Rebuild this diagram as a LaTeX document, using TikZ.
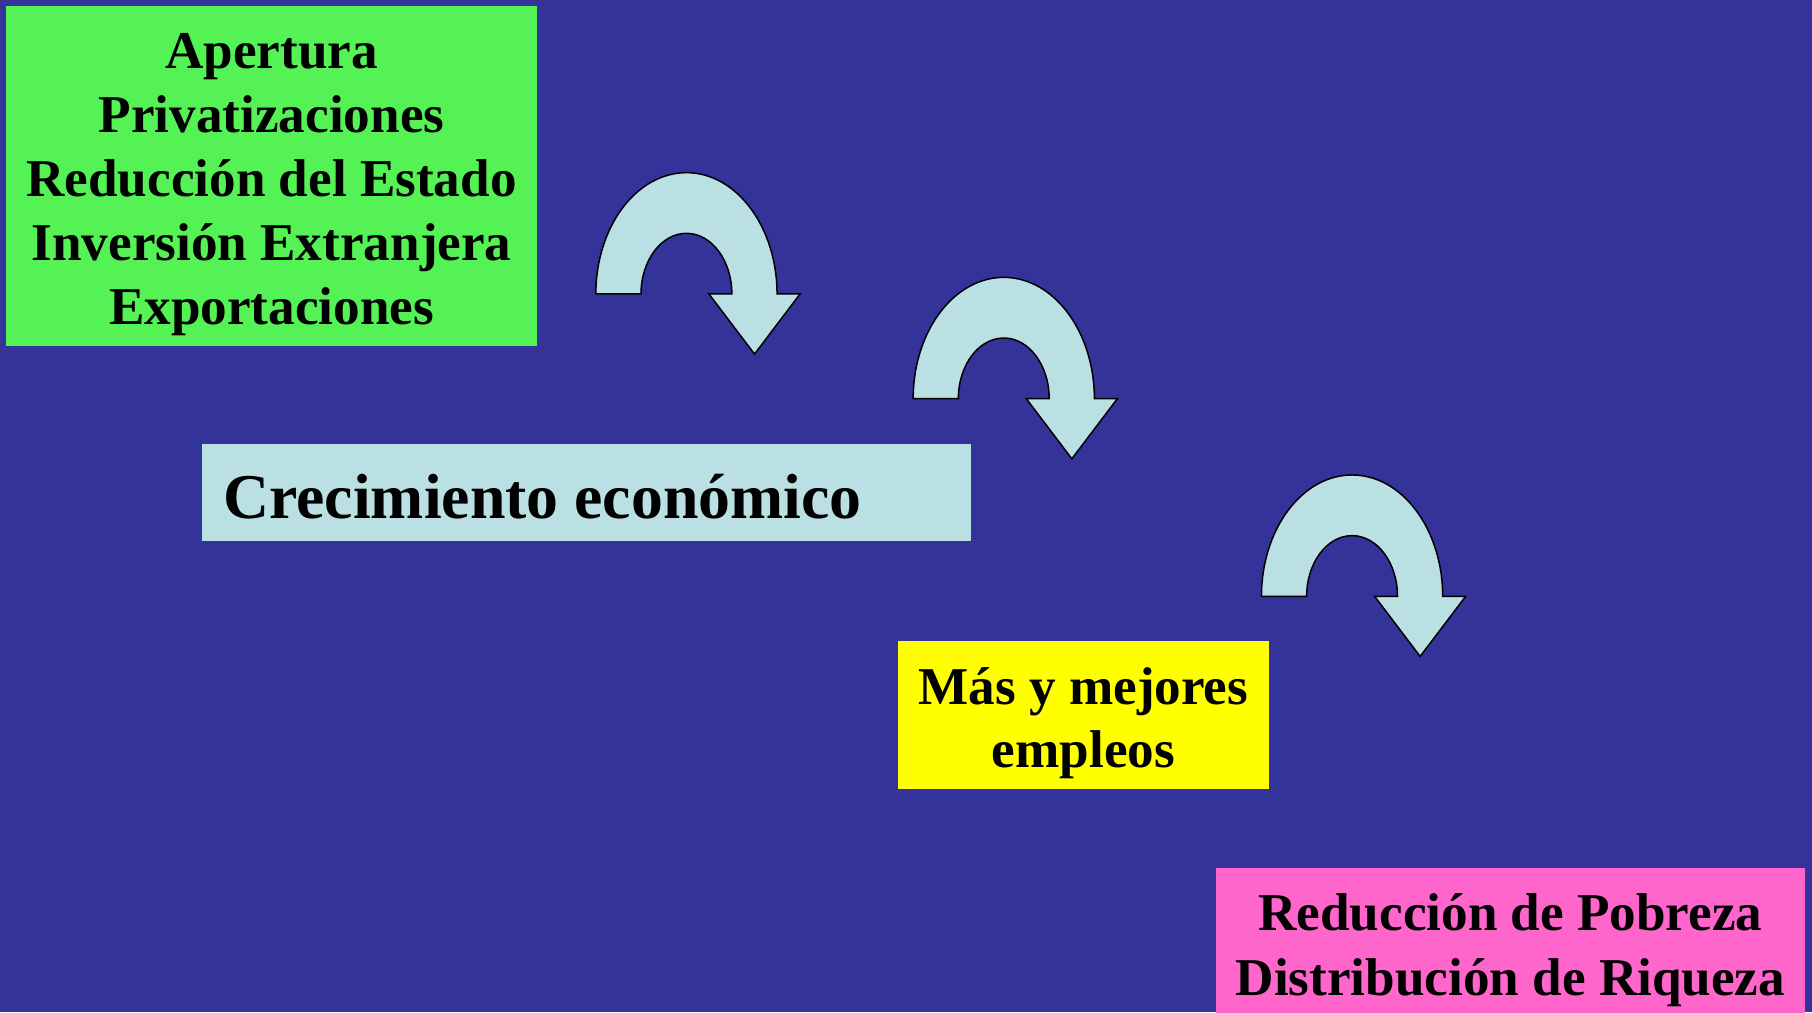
\documentclass[tikz,border=0pt]{standalone}
\usepackage{fontspec}
\setmainfont{Liberation Serif}
\definecolor{bgblue}{RGB}{51,51,153}
\definecolor{boxgreen}{RGB}{84,242,84}
\definecolor{boxcyan}{RGB}{186,224,227}
\definecolor{boxyellow}{RGB}{255,255,0}
\definecolor{boxpink}{RGB}{255,102,204}
\tikzset{
  panel/.style={rectangle, draw=none, inner sep=0pt, outer sep=0pt},
  line/.style={inner sep=0pt, outer sep=0pt, anchor=base, font=\fontsize{46bp}{55bp}\selectfont\bfseries},
  bigline/.style={inner sep=0pt, outer sep=0pt, anchor=base west, font=\fontsize{55.2bp}{66bp}\selectfont\bfseries},
  bendarrow/.style={fill=boxcyan, draw=black, line width=1.3bp, line join=miter},
  uarrow/.pic={
    \path[bendarrow] (-78.4,0) arc[start angle=180, end angle=360, x radius=78.4, y radius=105]
      -- (98.3,0) -- (58.9,52) -- (19.5,0) -- (39.3,0)
      arc[start angle=360, end angle=180, x radius=39.3, y radius=52.5] -- cycle;
  }
}
\begin{document}
\begin{tikzpicture}[x=1bp, y=-1bp]
\fill[bgblue] (0,0) rectangle (1568,876);
\useasboundingbox (0,0) rectangle (1568,876);

% green box
\node[panel, fill=boxgreen, minimum width=460bp, minimum height=294bp] (green) at (235,152) {};
\node[line] (g1) at (235,59.5) {Apertura};
\node[line] (g2) at (235,114.9) {Privatizaciones};
\node[line] (g3) at (235,170.3) {Reducción del Estado};
\node[line] (g4) at (235,225.7) {Inversión Extranjera};
\node[line] (g5) at (235,281.1) {Exportaciones};

% cyan box
\node[panel, fill=boxcyan, minimum width=665bp, minimum height=84bp] (cyan) at (507.5,426) {};
\node[bigline] (c1) at (193.2,448.5) {Crecimiento económico};

% yellow box
\node[panel, fill=boxyellow, minimum width=321bp, minimum height=128bp] (yellow) at (937.5,619) {};
\node[line] (y1) at (937.5,609.8) {Más y mejores};
\node[line] (y2) at (937.5,664) {empleos};

% pink box
\node[panel, fill=boxpink, minimum width=510bp, minimum height=126bp] (pink) at (1307,814) {};
\node[line] (p1) at (1307,805.6) {Reducción de Pobreza};
\node[line] (p2) at (1307,861.4) {Distribución de Riqueza};

% curved arrows
\pic (a1) at (594,254.4) {uarrow};
\pic (a2) at (868.6,345) {uarrow};
\pic (a3) at (1170,516) {uarrow};
\end{tikzpicture}
\end{document}
